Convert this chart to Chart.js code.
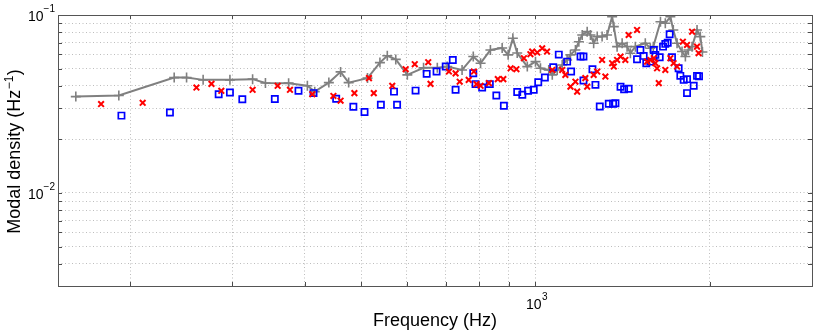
<!DOCTYPE html>
<html>
<head>
<meta charset="utf-8">
<script src="https://cdn.jsdelivr.net/npm/chart.js@4.4.1/dist/chart.umd.min.js"></script>
<style>
    html, body { margin: 0; padding: 0; background: #fff; }
    #wrap { width: 830px; height: 335px; position: relative; }
</style>
</head>
<body>
<div id="wrap"><canvas id="modalChart" width="830" height="335"></canvas></div>
<script>
// Modal density vs frequency (log-log)

// grey line with + markers
const grayFreq = [161, 191, 238, 250, 267, 297, 325, 342, 375, 404, 416, 440, 461, 476, 513, 539, 555, 574, 601, 641,
    677, 704, 747, 781, 804, 836, 876, 897, 914, 930, 968, 1000, 1020, 1054, 1069, 1090, 1112, 1134, 1149, 1172,
    1188, 1204, 1228, 1244, 1260, 1278, 1303, 1329, 1356, 1365, 1383, 1411, 1439, 1458, 1487, 1547, 1578, 1597, 1643, 1675,
    1709, 1729, 1755, 1790, 1814, 1836, 1863, 1900, 1925, 1941];
const grayDensity = [0.0348, 0.0353, 0.0445, 0.0445, 0.0432, 0.0432, 0.0436, 0.0415, 0.0414, 0.0400, 0.0371, 0.0417, 0.0479, 0.0417, 0.0442, 0.0540, 0.0590, 0.0563, 0.0461, 0.0505,
    0.0505, 0.0513, 0.0491, 0.0584, 0.0536, 0.0636, 0.0653, 0.0597, 0.0740, 0.0612, 0.0513, 0.0547, 0.0502, 0.0491, 0.0461, 0.0491, 0.0524, 0.0559, 0.0597, 0.0636,
    0.0708, 0.0772, 0.0806, 0.0772, 0.0694, 0.0756, 0.0756, 0.0772, 0.0978, 0.0860, 0.0664, 0.0694, 0.0664, 0.0610, 0.0664, 0.0694, 0.0650, 0.0664, 0.0917, 0.0898,
    0.0978, 0.0824, 0.0694, 0.0623, 0.0584, 0.0636, 0.0664, 0.0824, 0.0756, 0.0620];

// red crosses
const redFreq = [178, 210, 260, 276, 287, 325, 359, 377, 412, 448, 461, 487, 516, 526, 566, 597, 619, 653, 659, 709,
    728, 740, 767, 783, 791, 804, 831, 861, 880, 906, 927, 955, 980, 987, 1007, 1027, 1047, 1069, 1112, 1126,
    1149, 1172, 1180, 1219, 1228, 1260, 1278, 1303, 1320, 1356, 1365, 1383, 1402, 1429, 1448, 1497, 1558, 1578, 1600, 1610,
    1621, 1632, 1675, 1709, 1731, 1755, 1796, 1826, 1863, 1900, 1912];
const redDensity = [0.0316, 0.0321, 0.0391, 0.0410, 0.0375, 0.0380, 0.0400, 0.0380, 0.0359, 0.0351, 0.0330, 0.0364, 0.0442, 0.0364, 0.0400, 0.0496, 0.0529, 0.0543, 0.0410, 0.0481,
    0.0470, 0.0422, 0.0432, 0.0481, 0.0409, 0.0400, 0.0414, 0.0436, 0.0436, 0.0502, 0.0496, 0.0572, 0.0602, 0.0623, 0.0615, 0.0650, 0.0623, 0.0491, 0.0491, 0.0461,
    0.0396, 0.0422, 0.0371, 0.0442, 0.0396, 0.0461, 0.0481, 0.0559, 0.0451, 0.0536, 0.0513, 0.0559, 0.0584, 0.0559, 0.0772, 0.0824, 0.0547, 0.0559, 0.0572, 0.0536,
    0.0502, 0.0414, 0.0491, 0.0572, 0.0536, 0.0513, 0.0708, 0.0679, 0.0806, 0.0664, 0.0610];

// blue squares
const blueFreq = [193, 234, 284, 297, 312, 355, 390, 414, 453, 485, 507, 541, 570, 577, 621, 649, 675, 700, 720, 728,
    781, 788, 809, 834, 856, 882, 930, 949, 971, 993, 1011, 1038, 1073, 1097, 1134, 1152, 1196, 1210, 1210, 1254,
    1269, 1291, 1338, 1361, 1374, 1402, 1422, 1448, 1497, 1517, 1537, 1553, 1578, 1600, 1610, 1638, 1660, 1675, 1691, 1704,
    1720, 1766, 1778, 1802, 1826, 1826, 1875, 1900, 1915];
const blueDensity = [0.0272, 0.0283, 0.0359, 0.0367, 0.0336, 0.0337, 0.0375, 0.0364, 0.0338, 0.0305, 0.0285, 0.0313, 0.0371, 0.0313, 0.0376, 0.0467, 0.0481, 0.0513, 0.0559, 0.0380,
    0.0471, 0.0409, 0.0391, 0.0409, 0.0353, 0.0309, 0.0369, 0.0356, 0.0375, 0.0380, 0.0419, 0.0445, 0.0509, 0.0599, 0.0547, 0.0481, 0.0584, 0.0584, 0.0428, 0.0496,
    0.0405, 0.0306, 0.0317, 0.0317, 0.0319, 0.0395, 0.0383, 0.0385, 0.0564, 0.0636, 0.0589, 0.0536, 0.0547, 0.0636, 0.0597, 0.0579, 0.0664, 0.0688, 0.0698, 0.0779,
    0.0579, 0.0502, 0.0455, 0.0432, 0.0436, 0.0364, 0.0400, 0.0455, 0.0453];

// axis ticks (grid at every one) and the ones that carry a label
const xTicks = [200, 300, 400, 500, 600, 700, 800, 900, 1000, 2000, 3000];
const yTicks = [0.003, 0.004, 0.005, 0.006, 0.007, 0.008, 0.009, 0.01, 0.02, 0.03, 0.04, 0.05, 0.06, 0.07, 0.08, 0.09, 0.1];
const xLabelTicks = [1000];
const yLabelTicks = [0.01, 0.1];
const xTitle = 'Frequency (Hz)';
const yTitle = ['Modal density (Hz', '\u22121', ')'];

const FONT = '"Liberation Sans", Arial, Helvetica, sans-serif';

const toPoints = (xs, ys) => xs.map((x, i) => ({ x: x, y: ys[i] }));

// MATLAB-like box, inner tick marks and 10^n labels
const matlabAxes = {
    id: 'matlabAxes',
    afterDraw(chart) {
        const ctx = chart.ctx;
        const a = chart.chartArea;
        const xs = chart.scales.x;
        const ys = chart.scales.y;
        ctx.save();

        // tick marks on all four sides
        ctx.strokeStyle = '#4a4a4a';
        ctx.lineWidth = 1;
        ctx.beginPath();
        xTicks.forEach(v => {
            const px = Math.round(xs.getPixelForValue(v)) + 0.5;
            ctx.moveTo(px, a.bottom); ctx.lineTo(px, a.bottom - 4);
            ctx.moveTo(px, a.top); ctx.lineTo(px, a.top + 4);
        });
        yTicks.forEach(v => {
            const py = Math.round(ys.getPixelForValue(v)) + 0.5;
            ctx.moveTo(a.left, py); ctx.lineTo(a.left + 4, py);
            ctx.moveTo(a.right, py); ctx.lineTo(a.right - 4, py);
        });
        ctx.stroke();

        // box
        ctx.strokeStyle = '#555';
        ctx.strokeRect(Math.round(a.left) + 0.5, Math.round(a.top) + 0.5,
            Math.round(a.right - a.left), Math.round(a.bottom - a.top));

        ctx.fillStyle = '#000';
        ctx.textBaseline = 'alphabetic';
        ctx.textAlign = 'left';

        // x tick labels
        xLabelTicks.forEach(v => {
            const px = xs.getPixelForValue(v);
            const exp = String(Math.round(Math.log10(v)));
            ctx.font = '14px ' + FONT;
            const wBase = ctx.measureText('10').width;
            ctx.font = '10px ' + FONT;
            const wExp = ctx.measureText(exp).width;
            const x0 = px - (wBase + wExp) / 2 + 1;
            ctx.font = '14px ' + FONT;
            ctx.fillText('10', x0, 309);
            ctx.font = '10px ' + FONT;
            ctx.fillText(exp, x0 + wBase + 0.5, 300);
        });

        // y tick labels
        yLabelTicks.forEach(v => {
            const py = ys.getPixelForValue(v);
            const exp = '\u2212' + String(Math.abs(Math.round(Math.log10(v))));
            ctx.font = '10px ' + FONT;
            const wExp = ctx.measureText(exp).width;
            ctx.font = '14px ' + FONT;
            const wBase = ctx.measureText('10').width;
            const right = a.left - 3;
            ctx.fillText('10', right - wExp - wBase, py + 6);
            ctx.font = '10px ' + FONT;
            ctx.fillText(exp, right - wExp, py - 3);
        });

        // x title
        ctx.font = '18px ' + FONT;
        ctx.textAlign = 'center';
        ctx.fillText(xTitle, (a.left + a.right) / 2, 326);

        // y title (rotated, with superscript)
        ctx.textAlign = 'left';
        ctx.font = '18px ' + FONT;
        const w1 = ctx.measureText(yTitle[0]).width;
        const w3 = ctx.measureText(yTitle[2]).width;
        ctx.font = '12px ' + FONT;
        const w2 = ctx.measureText(yTitle[1]).width;
        const total = w1 + w2 + w3 + 1;
        ctx.translate(20, (a.top + a.bottom) / 2 + 1);
        ctx.rotate(-Math.PI / 2);
        let x = -total / 2;
        ctx.font = '18px ' + FONT;
        ctx.fillText(yTitle[0], x, 0);
        x += w1 + 0.5;
        ctx.font = '12px ' + FONT;
        ctx.fillText(yTitle[1], x, -7);
        x += w2 + 0.5;
        ctx.font = '18px ' + FONT;
        ctx.fillText(yTitle[2], x, 0);

        ctx.restore();
    }
};

const gridOpts = {
    color: '#bdbdbd',
    lineWidth: 1,
    drawTicks: false
};

new Chart(document.getElementById('modalChart'), {
    type: 'scatter',
    data: {
        datasets: [{
            label: 'red',
            data: toPoints(redFreq, redDensity),
            pointStyle: 'crossRot',
            pointRadius: 4,
            borderColor: '#ff0000',
            backgroundColor: '#ff0000',
            pointBorderWidth: 2,
            order: 1
        }, {
            label: 'blue',
            data: toPoints(blueFreq, blueDensity),
            pointStyle: 'rect',
            pointRadius: 4.4,
            borderColor: '#0000ff',
            backgroundColor: 'rgba(0,0,0,0)',
            pointBorderWidth: 1.7,
            order: 2
        }, {
            label: 'grey',
            data: toPoints(grayFreq, grayDensity),
            showLine: true,
            pointStyle: 'cross',
            pointRadius: 5,
            borderColor: '#808080',
            backgroundColor: '#808080',
            borderWidth: 2,
            pointBorderWidth: 1.6,
            tension: 0,
            order: 3
        }]
    },
    options: {
        responsive: false,
        animation: false,
        devicePixelRatio: 1,
        layout: {
            padding: { top: 15, right: 18, bottom: 0, left: 0 }
        },
        plugins: {
            legend: { display: false },
            tooltip: { enabled: false }
        },
        scales: {
            x: {
                type: 'logarithmic',
                min: 150,
                max: 3000,
                afterBuildTicks: (s) => { s.ticks = xTicks.map(v => ({ value: v })); },
                afterFit: (s) => { s.height = 49; },
                ticks: { display: false },
                grid: gridOpts,
                border: { display: false, dash: [1, 2.5] }
            },
            y: {
                type: 'logarithmic',
                min: 0.003,
                max: 0.1,
                afterBuildTicks: (s) => { s.ticks = yTicks.map(v => ({ value: v })); },
                afterFit: (s) => { s.width = 58; },
                ticks: { display: false },
                grid: gridOpts,
                border: { display: false, dash: [1, 2.5] }
            }
        }
    },
    plugins: [matlabAxes]
});
</script>
</body>
</html>
